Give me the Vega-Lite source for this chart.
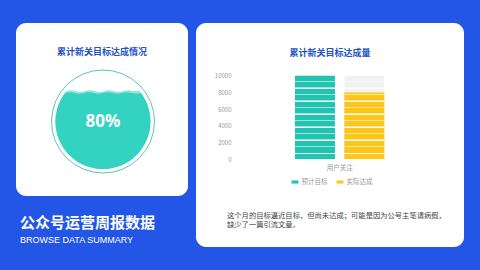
{
  "$schema": "https://vega.github.io/schema/vega-lite/v6.json",
  "background": "#2356e6",
  "padding": {"left": 16, "top": 23, "right": 16, "bottom": 23},
  "bounds": "flush",
  "spacing": 8,
  "config": {
    "view": {"fill": "white", "stroke": null, "cornerRadius": 10},
    "font": "Noto Sans CJK SC"
  },
  "hconcat": [
    {
      "width": 172,
      "height": 173,
      "view": {"fill": "white", "stroke": null, "cornerRadius": 10},
      "data": {"values": [{"metric": "累计新关目标达成情况", "rate": 0.8}]},
      "title": {
        "text": "公众号运营周报数据",
        "subtitle": "BROWSE DATA SUMMARY",
        "orient": "bottom",
        "anchor": "start",
        "frame": "group",
        "dx": 4,
        "offset": 20,
        "baseline": "top",
        "color": "white",
        "fontSize": 15,
        "fontWeight": "bold",
        "font": "Noto Sans CJK SC",
        "subtitleColor": "white",
        "subtitleFontSize": 9,
        "subtitleFont": "Liberation Sans",
        "subtitlePadding": 4.5
      },
      "layer": [
        {
          "mark": {"type": "text", "dy": -57.5, "fontSize": 9, "fontWeight": "bold", "color": "#2553c3", "baseline": "middle"},
          "encoding": {"text": {"field": "metric"}}
        },
        {
          "mark": {"type": "point", "shape": "circle", "size": 10609, "filled": false, "stroke": "#5cc3b7", "strokeWidth": 1, "opacity": 1, "xOffset": 1, "yOffset": 12},
          "encoding": {}
        },
        {
          "mark": {"type": "point", "shape": "M-0.7684,-0.64 Q-0.67,-0.68 -0.57,-0.64 T-0.37,-0.64 T-0.17,-0.64 T0.03,-0.64 T0.23,-0.64 T0.43,-0.64 T0.63,-0.64 L0.7684,-0.64 A1,1 0 1 1 -0.7684,-0.64 Z", "size": 9025, "filled": true, "fill": "#8fe6dc", "strokeWidth": 0, "opacity": 1, "xOffset": 1, "yOffset": 12},
          "encoding": {}
        },
        {
          "mark": {"type": "point", "shape": "M-0.8,-0.6 Q-0.7,-0.635 -0.6,-0.6 T-0.4,-0.6 T-0.2,-0.6 T0,-0.6 T0.2,-0.6 T0.4,-0.6 T0.6,-0.6 T0.8,-0.6 A1,1 0 1 1 -0.8,-0.6 Z", "size": 9025, "filled": true, "fill": "#34d2c1", "strokeWidth": 0, "opacity": 1, "xOffset": 1, "yOffset": 12},
          "encoding": {}
        },
        {
          "mark": {"type": "text", "fontSize": 17, "fontWeight": "bold", "color": "white", "font": "Noto Sans", "dy": 12.5, "dx": 1, "baseline": "middle"},
          "encoding": {"text": {"field": "rate", "type": "quantitative", "format": ".0%"}}
        }
      ]
    },
    {
      "width": 268,
      "height": 224,
      "view": {"fill": "white", "stroke": null, "cornerRadius": 10},
      "title": {
        "text": "累计新关目标达成量",
        "orient": "top",
        "anchor": "middle",
        "frame": "group",
        "offset": -39,
        "baseline": "middle",
        "fontSize": 9,
        "fontWeight": "bold",
        "color": "#2553c3",
        "font": "Noto Sans CJK SC"
      },
      "layer": [
        {
          "data": {"values": [
            {"category": "用户关注", "series": "预计目标", "value": 10000, "max": 10000},
            {"category": "用户关注", "series": "实际达成", "value": 8000, "max": 10000}
          ]},
          "encoding": {
            "x": {"field": "category", "type": "nominal",
              "scale": {"paddingInner": 0, "paddingOuter": 1.53, "align": 0.554},
              "axis": {"title": null, "labelAngle": 0, "domain": false, "ticks": false, "offset": -85, "labelPadding": 2, "labelFontSize": 6.5, "labelColor": "#999999"}},
            "xOffset": {"field": "series", "type": "nominal", "scale": {"domain": ["预计目标", "实际达成"], "paddingInner": 0.19, "paddingOuter": 0}}
          },
          "layer": [
            {
              "mark": {"type": "bar", "fill": "#f1f1f1"},
              "encoding": {
                "y": {"field": "max", "type": "quantitative",
                  "scale": {"domain": [-10560, 16330], "nice": false, "zero": false},
                  "axis": {"title": null, "values": [0, 2000, 4000, 6000, 8000, 10000], "format": "d", "domain": false, "ticks": false, "grid": false, "offset": -37, "labelPadding": 2, "labelFontSize": 6, "labelColor": "#999999"}}
              }
            },
            {
              "mark": {"type": "bar"},
              "encoding": {
                "y": {"field": "value", "type": "quantitative",
                  "axis": {"title": null, "values": [0, 2000, 4000, 6000, 8000, 10000], "format": "d", "domain": false, "ticks": false, "grid": false, "offset": -37, "labelPadding": 2, "labelFontSize": 6, "labelColor": "#999999"}},
                "color": {"field": "series", "type": "nominal",
                  "scale": {"domain": ["预计目标", "实际达成"], "range": ["#21c4b0", "#ffc61a"]},
                  "legend": {"orient": "none", "legendX": 275.5, "legendY": 155.5, "direction": "horizontal", "title": null, "symbolType": "M-1,-0.45H1V0.45H-1Z", "symbolSize": 49, "symbolStrokeWidth": 0, "labelFontSize": 6.5, "labelColor": "#999999", "labelOffset": 3, "columnPadding": 9, "padding": 0}}
              }
            },
            {
              "mark": {"type": "bar", "fill": {"gradient": "linear", "x1": 0, "y1": 0, "x2": 0, "y2": 1, "stops": [
                {"offset": 0, "color": "rgba(255,255,255,0)"},
                {"offset": 0.0610, "color": "rgba(255,255,255,0)"}, {"offset": 0.0610, "color": "rgba(255,255,255,0.55)"}, {"offset": 0.0704, "color": "rgba(255,255,255,0.55)"}, {"offset": 0.0704, "color": "rgba(255,255,255,0.95)"}, {"offset": 0.0783, "color": "rgba(255,255,255,0.95)"}, {"offset": 0.0783, "color": "rgba(255,255,255,0)"},
                {"offset": 0.1393, "color": "rgba(255,255,255,0)"}, {"offset": 0.1393, "color": "rgba(255,255,255,0.55)"}, {"offset": 0.1487, "color": "rgba(255,255,255,0.55)"}, {"offset": 0.1487, "color": "rgba(255,255,255,0.95)"}, {"offset": 0.1565, "color": "rgba(255,255,255,0.95)"}, {"offset": 0.1565, "color": "rgba(255,255,255,0)"},
                {"offset": 0.2175, "color": "rgba(255,255,255,0)"}, {"offset": 0.2175, "color": "rgba(255,255,255,0.55)"}, {"offset": 0.2269, "color": "rgba(255,255,255,0.55)"}, {"offset": 0.2269, "color": "rgba(255,255,255,0.95)"}, {"offset": 0.2348, "color": "rgba(255,255,255,0.95)"}, {"offset": 0.2348, "color": "rgba(255,255,255,0)"},
                {"offset": 0.2958, "color": "rgba(255,255,255,0)"}, {"offset": 0.2958, "color": "rgba(255,255,255,0.55)"}, {"offset": 0.3052, "color": "rgba(255,255,255,0.55)"}, {"offset": 0.3052, "color": "rgba(255,255,255,0.95)"}, {"offset": 0.3130, "color": "rgba(255,255,255,0.95)"}, {"offset": 0.3130, "color": "rgba(255,255,255,0)"},
                {"offset": 0.3740, "color": "rgba(255,255,255,0)"}, {"offset": 0.3740, "color": "rgba(255,255,255,0.55)"}, {"offset": 0.3834, "color": "rgba(255,255,255,0.55)"}, {"offset": 0.3834, "color": "rgba(255,255,255,0.95)"}, {"offset": 0.3913, "color": "rgba(255,255,255,0.95)"}, {"offset": 0.3913, "color": "rgba(255,255,255,0)"},
                {"offset": 0.4523, "color": "rgba(255,255,255,0)"}, {"offset": 0.4523, "color": "rgba(255,255,255,0.55)"}, {"offset": 0.4617, "color": "rgba(255,255,255,0.55)"}, {"offset": 0.4617, "color": "rgba(255,255,255,0.95)"}, {"offset": 0.4695, "color": "rgba(255,255,255,0.95)"}, {"offset": 0.4695, "color": "rgba(255,255,255,0)"},
                {"offset": 0.5305, "color": "rgba(255,255,255,0)"}, {"offset": 0.5305, "color": "rgba(255,255,255,0.55)"}, {"offset": 0.5399, "color": "rgba(255,255,255,0.55)"}, {"offset": 0.5399, "color": "rgba(255,255,255,0.95)"}, {"offset": 0.5478, "color": "rgba(255,255,255,0.95)"}, {"offset": 0.5478, "color": "rgba(255,255,255,0)"},
                {"offset": 0.6088, "color": "rgba(255,255,255,0)"}, {"offset": 0.6088, "color": "rgba(255,255,255,0.55)"}, {"offset": 0.6182, "color": "rgba(255,255,255,0.55)"}, {"offset": 0.6182, "color": "rgba(255,255,255,0.95)"}, {"offset": 0.6260, "color": "rgba(255,255,255,0.95)"}, {"offset": 0.6260, "color": "rgba(255,255,255,0)"},
                {"offset": 0.6870, "color": "rgba(255,255,255,0)"}, {"offset": 0.6870, "color": "rgba(255,255,255,0.55)"}, {"offset": 0.6964, "color": "rgba(255,255,255,0.55)"}, {"offset": 0.6964, "color": "rgba(255,255,255,0.95)"}, {"offset": 0.7043, "color": "rgba(255,255,255,0.95)"}, {"offset": 0.7043, "color": "rgba(255,255,255,0)"},
                {"offset": 0.7653, "color": "rgba(255,255,255,0)"}, {"offset": 0.7653, "color": "rgba(255,255,255,0.55)"}, {"offset": 0.7747, "color": "rgba(255,255,255,0.55)"}, {"offset": 0.7747, "color": "rgba(255,255,255,0.95)"}, {"offset": 0.7825, "color": "rgba(255,255,255,0.95)"}, {"offset": 0.7825, "color": "rgba(255,255,255,0)"},
                {"offset": 0.8435, "color": "rgba(255,255,255,0)"}, {"offset": 0.8435, "color": "rgba(255,255,255,0.55)"}, {"offset": 0.8529, "color": "rgba(255,255,255,0.55)"}, {"offset": 0.8529, "color": "rgba(255,255,255,0.95)"}, {"offset": 0.8608, "color": "rgba(255,255,255,0.95)"}, {"offset": 0.8608, "color": "rgba(255,255,255,0)"},
                {"offset": 0.9218, "color": "rgba(255,255,255,0)"}, {"offset": 0.9218, "color": "rgba(255,255,255,0.55)"}, {"offset": 0.9312, "color": "rgba(255,255,255,0.55)"}, {"offset": 0.9312, "color": "rgba(255,255,255,0.95)"}, {"offset": 0.9390, "color": "rgba(255,255,255,0.95)"}, {"offset": 0.9390, "color": "rgba(255,255,255,0)"},
                {"offset": 1, "color": "rgba(255,255,255,0)"}
              ]}},
              "encoding": {
                "y": {"field": "max", "type": "quantitative",
                  "axis": {"title": null, "values": [0, 2000, 4000, 6000, 8000, 10000], "format": "d", "domain": false, "ticks": false, "grid": false, "offset": -37, "labelPadding": 2, "labelFontSize": 6, "labelColor": "#999999"}}
              }
            }
          ]
        },
        {
          "data": {"values": [{}]},
          "mark": {"type": "text", "text": ["这个月的目标逼近目标，但尚未达成；可能是因为公号主笔请病假，", "缺少了一篇引流文章。"], "align": "left", "baseline": "top", "dx": -103, "dy": 76.6, "fontSize": 7.3, "lineHeight": 9.5, "color": "#444444"},
          "encoding": {}
        }
      ]
    }
  ]
}
